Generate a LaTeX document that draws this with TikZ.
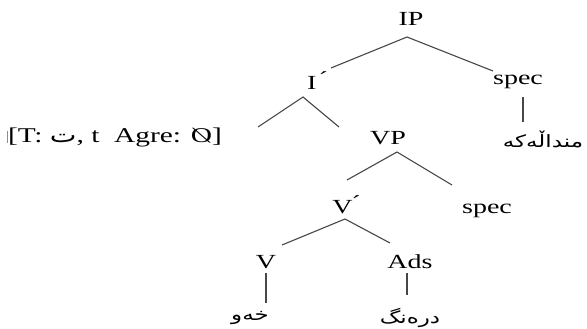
\documentclass[tikz,border=0pt]{standalone}
\usepackage{fontspec}
\usepackage{graphicx}
\setmainfont[FakeStretch=1.4]{Liberation Serif}
\newfontfamily\arabicfont[Script=Arabic,FakeStretch=1.35]{DejaVu Sans}
\TeXXeTstate=1
\newcommand{\ar}[1]{{\arabicfont\beginR #1\endR}}
\begin{document}
\begin{tikzpicture}[x=1pt,y=-1pt,
  lab/.style={font=\fontsize{20}{22}\selectfont, inner sep=0pt},
  artext/.style={font=\arabicfont\fontsize{17}{19}\selectfont, inner sep=0pt},
  branch/.style={draw=black!72, line width=1.1pt}]
\useasboundingbox (0,0) rectangle (587,329);

% category labels
\node[lab] (ip)    at (411,19)  {IP};
\node[lab] (ibar)  at (317,81)  {I\,\'{}};
\node[lab] (spec1) at (518,82)  {spec};
\node[lab] (vp)    at (388,138) {VP};
\node[lab] (vbar)  at (346,205) {V\'{}};
\node[lab] (spec2) at (487,211) {spec};
\node[lab] (v)     at (266,262) {V};
\node[lab] (ads)   at (410,262) {Ads};

% feature bundle and words
\node[lab, font=\fontsize{21}{23}\selectfont] (feat) at (115,137)
  {[T: \ar{ت}, t\ \ Agre: \reflectbox{Ø}]};
\node[artext] (child) at (543,139) {\ar{منداڵەکە}};
\node[artext] (sleep) at (250,318) {\ar{خەو}};
\node[artext] (late)  at (410,318) {\ar{درەنگ}};

% branch end points
\coordinate (ip-b)    at (407,37);
\coordinate (ibar-t)  at (331,68);
\coordinate (spec1-t) at (493,71);
\coordinate (spec1-b) at (523,97);
\coordinate (child-t) at (523,122);
\coordinate (ibar-b)  at (303,97);
\coordinate (feat-t)  at (258,127);
\coordinate (vp-t)    at (339,127);
\coordinate (vp-b)    at (397,152);
\coordinate (vbar-t)  at (347,180);
\coordinate (spec2-t) at (452,185);
\coordinate (vbar-b)  at (345,219);
\coordinate (v-t)     at (282,245);
\coordinate (ads-t)   at (390,243);
\coordinate (v-b)     at (266,273);
\coordinate (sleep-t) at (266,303);
\coordinate (ads-b)   at (407,273);
\coordinate (late-t)  at (407,295);

\draw[branch] (ibar-t) -- (ip-b) -- (spec1-t);
\draw[branch] (spec1-b) -- (child-t);
\draw[branch] (feat-t) -- (ibar-b) -- (vp-t);
\draw[branch] (vbar-t) -- (vp-b) -- (spec2-t);
\draw[branch] (v-t) -- (vbar-b) -- (ads-t);
\draw[branch] (v-b) -- (sleep-t);
\draw[branch] (ads-b) -- (late-t);

% clipped stroke just left of the bracket
\draw[black!45, line width=0.6pt] (7,131) -- (7,143);
\end{tikzpicture}
\end{document}
